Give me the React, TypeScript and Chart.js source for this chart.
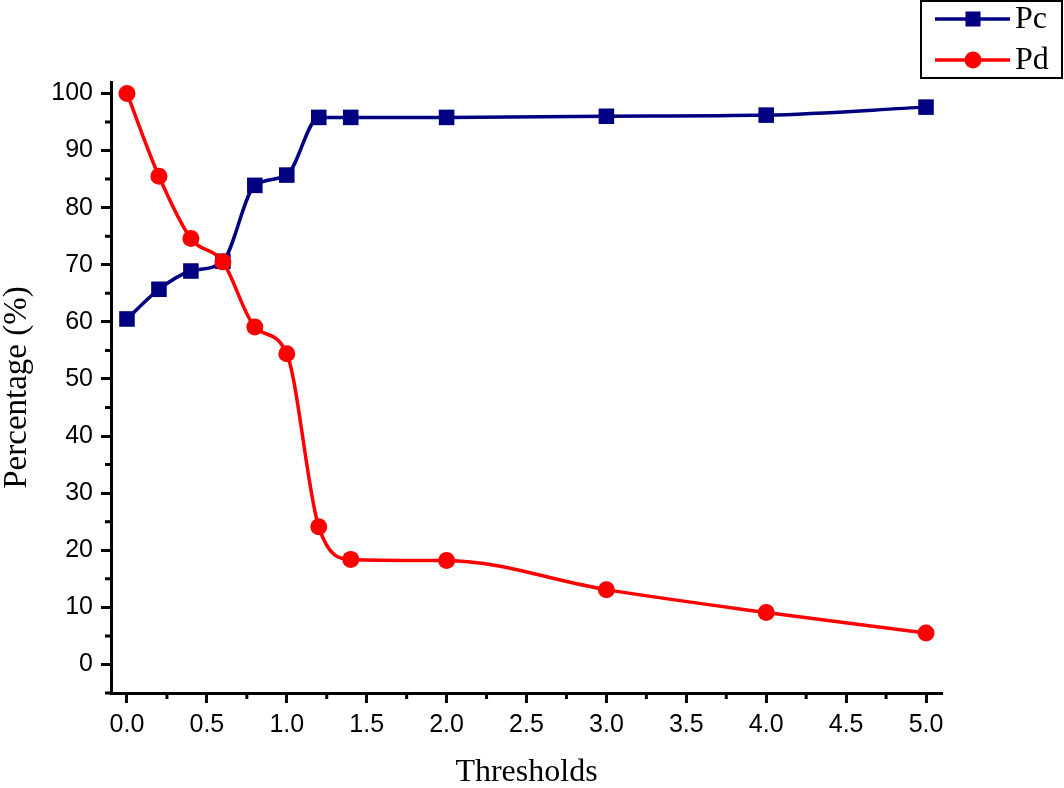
import React, { useEffect, useRef } from "react";
import { Chart, registerables } from "chart.js";

Chart.register(...registerables);

const thresholds = [0, 0.2, 0.4, 0.6, 0.8, 1.0, 1.2, 1.4, 2, 3, 4, 5];
const pcValues = [60.5, 65.7, 68.9, 70.6, 83.9, 85.7, 95.8, 95.8, 95.8, 96.0, 96.2, 97.6];
const pdValues = [100, 85.5, 74.6, 70.5, 59.1, 54.4, 24.1, 18.4, 18.2, 13.1, 9.1, 5.5];
const xTickValues = [0, 0.5, 1, 1.5, 2, 2.5, 3, 3.5, 4, 4.5, 5];
const xMinorValues = [0.25, 0.75, 1.25, 1.75, 2.25, 2.75, 3.25, 3.75, 4.25, 4.75];
const yTickValues = [0, 10, 20, 30, 40, 50, 60, 70, 80, 90, 100];
const yMinorValues = [-5, 5, 15, 25, 35, 45, 55, 65, 75, 85, 95];

const NAVY = "#000080";
const RED = "#FF0000";

const legendItems = [
  { label: "Pc", color: NAVY, style: "rect" },
  { label: "Pd", color: RED, style: "circle" },
];

const minorTicksPlugin = {
  id: "minorTicks",
  afterDraw(chart: any) {
    const ctx = chart.ctx;
    const xs = chart.scales.x;
    const ys = chart.scales.y;
    const area = chart.chartArea;
    ctx.save();
    ctx.strokeStyle = "#000";
    ctx.lineWidth = 3;
    ctx.beginPath();
    xMinorValues.forEach((v) => {
      const px = xs.getPixelForValue(v);
      ctx.moveTo(px, area.bottom);
      ctx.lineTo(px, area.bottom + 6);
    });
    yMinorValues.forEach((v) => {
      const py = ys.getPixelForValue(v);
      ctx.moveTo(area.left, py);
      ctx.lineTo(area.left - 6, py);
    });
    ctx.stroke();
    ctx.restore();
  },
};

const legendPlugin = {
  id: "customLegend",
  afterDraw(chart: any) {
    const ctx = chart.ctx;
    ctx.save();
    ctx.strokeStyle = "#000";
    ctx.lineWidth = 2;
    ctx.strokeRect(921, 1, 141, 77);
    legendItems.forEach((it, i) => {
      const y = 19 + i * 41;
      ctx.strokeStyle = it.color;
      ctx.lineWidth = 3.5;
      ctx.beginPath();
      ctx.moveTo(935, y);
      ctx.lineTo(1010, y);
      ctx.stroke();
      ctx.fillStyle = it.color;
      if (it.style === "rect") {
        ctx.fillRect(965.5, y - 7.5, 15, 15);
      } else {
        ctx.beginPath();
        ctx.arc(973, y, 8.5, 0, Math.PI * 2);
        ctx.fill();
      }
      ctx.fillStyle = "#000";
      ctx.font = '32px "Liberation Serif"';
      ctx.textBaseline = "middle";
      ctx.textAlign = "left";
      ctx.fillText(it.label, 1015, y + 1);
    });
    ctx.restore();
  },
};

export default function App() {
  const ref = useRef<HTMLCanvasElement | null>(null);
  useEffect(() => {
    if (!ref.current) return;
    const chart = new Chart(ref.current, {
      type: "line",
      data: {
        datasets: [
          {
            label: "Pc",
            data: thresholds.map((x, i) => ({ x, y: pcValues[i] })),
            borderColor: NAVY,
            backgroundColor: NAVY,
            borderWidth: 3.5,
            pointStyle: "rect",
            pointRadius: 11,
            pointBorderWidth: 0,
            cubicInterpolationMode: "monotone",
            order: 2,
          },
          {
            label: "Pd",
            data: thresholds.map((x, i) => ({ x, y: pdValues[i] })),
            borderColor: RED,
            backgroundColor: RED,
            borderWidth: 3.5,
            pointStyle: "circle",
            pointRadius: 8.5,
            pointBorderWidth: 0,
            cubicInterpolationMode: "monotone",
            order: 1,
          },
        ],
      },
      options: {
        animation: false,
        responsive: false,
        layout: { padding: { left: 0, right: 122, top: 82, bottom: 0 } },
        plugins: { legend: { display: false }, tooltip: { enabled: false } },
        scales: {
          x: {
            type: "linear",
            min: -0.1,
            max: 5.1,
            afterBuildTicks: (s: any) => {
              s.ticks = xTickValues.map((v) => ({ value: v }));
            },
            afterFit: (s: any) => {
              s.height = 95;
            },
            border: { display: true, color: "#000", width: 3 },
            grid: {
              drawOnChartArea: false,
              drawTicks: true,
              tickLength: 10,
              tickWidth: 3,
              tickColor: "#000",
            },
            ticks: {
              color: "#000",
              font: { family: '"Liberation Sans", Arial', size: 25 },
              padding: 7,
              maxRotation: 0,
              callback: (v: any) => Number(v).toFixed(1),
            },
            title: {
              display: true,
              text: "Thresholds",
              color: "#000",
              font: { family: '"Liberation Serif", "Times New Roman"', size: 32, lineHeight: 1 },
              padding: { top: 0, bottom: -1 },
            },
          },
          y: {
            type: "linear",
            min: -5,
            max: 102,
            afterBuildTicks: (s: any) => {
              s.ticks = yTickValues.map((v) => ({ value: v }));
            },
            afterFit: (s: any) => {
              s.width = 111;
            },
            border: { display: true, color: "#000", width: 3 },
            grid: {
              drawOnChartArea: false,
              drawTicks: true,
              tickLength: 10,
              tickWidth: 3,
              tickColor: "#000",
            },
            ticks: {
              color: "#000",
              font: { family: '"Liberation Sans", Arial', size: 25 },
              padding: 8,
            },
            title: {
              display: true,
              text: "Percentage (%)",
              color: "#000",
              font: { family: '"Liberation Serif", "Times New Roman"', size: 33, lineHeight: 1 },
              padding: { top: 1, bottom: 0 },
            },
          },
        },
      },
      plugins: [minorTicksPlugin, legendPlugin],
    } as any);
    return () => chart.destroy();
  }, []);
  return (
    <div style={{ position: "fixed", left: 0, top: 0, width: 1064, height: 788, background: "#fff" }}>
      <canvas ref={ref} width={1064} height={788} style={{ width: 1064, height: 788 }} />
    </div>
  );
}
